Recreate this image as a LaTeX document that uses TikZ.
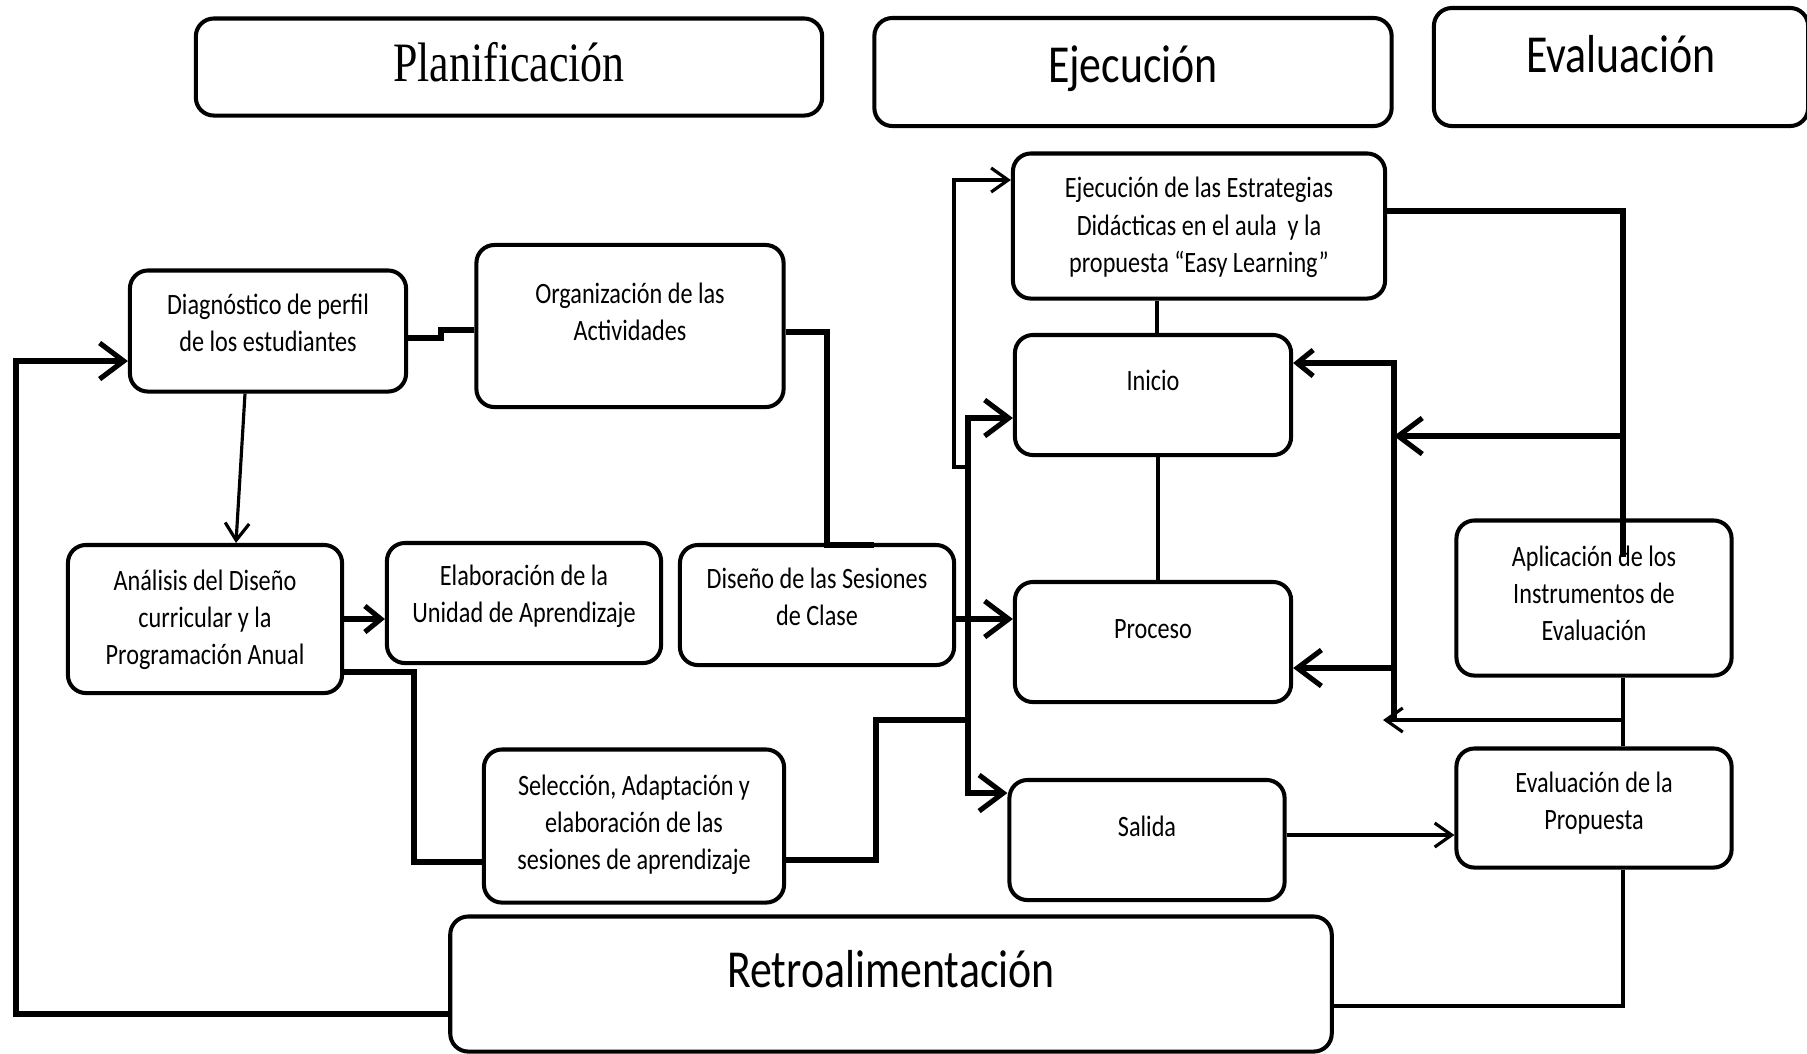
\documentclass[tikz,border=0pt]{standalone}
\usepackage{fontspec}
\setmainfont{Carlito}[FakeStretch=0.82]
\newfontfamily\planfont{Liberation Serif}[FakeStretch=0.79]
\usepackage{tikz}
\usetikzlibrary{
  arrows.meta,
}
\newcommand{\bodyfont}{\fontsize{8.4}{10.6}\selectfont}
\newcommand{\headfont}{\fontsize{15.2}{18}\selectfont}
\tikzset{
  x=0.01cm,
  y=-0.01cm,
  >={Straight Barb[length=2.4mm,width=3.6mm]},
  box/.style={
    draw,
    line width=1.15pt,
    rounded corners=0.18cm,
    align=center,
    inner sep=0pt,
    font=\bodyfont
  },
  header/.style={
    box,
    font=\headfont
  },
  dims/.style 2 args={
    minimum width=#1cm,
    minimum height=#2cm
  },
  lift/.style={
    text depth=#1
  },
  link/.style={
    line width=1.45pt
  },
  thin link/.style={
    line width=0.9pt
  },
  small tip/.style={
    -{Straight Barb[length=1.7mm,width=2.4mm]}
  },
  mid tip/.style={
    -{Straight Barb[length=1.6mm,width=2.6mm]}
  }
}

\begin{document}
\begin{tikzpicture}
\useasboundingbox (0,0) rectangle (1807,1053);
% fases
\node[header,dims={6.26}{0.97},lift=.10cm,
      font={\planfont\fontsize{15.8}{18}\selectfont}] (plan) at (509,67)  {Planificación};
\node[header,dims={5.17}{1.08},lift=.16cm] (ejec)  at (1133,72) {Ejecución};
\node[header,dims={3.74}{1.18},lift=.26cm] (eval)  at (1621,67) {Evaluación};
% planificacion
\node[box,dims={2.76}{1.21},lift=.16cm] (diag)  at (268,331)  {Diagnóstico de perfil\\de los estudiantes};
\node[box,dims={3.07}{1.62},lift=.28cm] (org)   at (630,326)  {Organización de las\\Actividades};
\node[box,dims={2.74}{1.48},lift=.04cm] (anal)  at (205,619)  {Análisis del Diseño\\curricular y la\\Programación Anual};
\node[box,dims={2.74}{1.20},lift=.18cm] (elab)  at (524,603)  {Elaboración de la\\Unidad de Aprendizaje};
\node[box,dims={2.74}{1.20},lift=.16cm] (dise)  at (817,605)  {Diseño de las Sesiones\\de Clase};
\node[box,dims={3.00}{1.53},lift=.08cm] (selec) at (634,826)  {Selección, Adaptación y\\elaboración de las\\sesiones de aprendizaje};
\node[header,dims={8.81}{1.35},lift=.30cm] (retro) at (891,984) {Retroalimentación};
% ejecucion
\node[box,dims={3.72}{1.45},lift=.02cm] (estr)  at (1199,226) {Ejecución de las Estrategias\\Didácticas en el aula~ y la\\propuesta “Easy Learning”};
\node[box,dims={2.76}{1.20},lift=.30cm] (ini)   at (1153,395) {Inicio};
\node[box,dims={2.76}{1.20},lift=.26cm] (proc)  at (1153,642) {Proceso};
\node[box,dims={2.75}{1.20},lift=.28cm] (sal)   at (1147,840) {Salida};
% evaluacion
\node[box,dims={2.75}{1.55},lift=.10cm] (apli)  at (1594,598) {Aplicación de los\\Instrumentos de\\Evaluación};
\node[box,dims={2.75}{1.19},lift=.14cm] (evprop) at (1594,808) {Evaluación de la\\Propuesta};

% conexiones
\draw[link,->]  (retro.west |- 0,1014) -- (16,1014) -- (16,361) -- (diag.west |- 0,361);
\draw[thin link,small tip] (diag.south -| 245,0) -- (anal.north -| 236,0);
\draw[link] (diag.east |- 0,338) -- (441,338) -- (441,330) -- (org.west |- 0,330);
\draw[link] (org.east |- 0,332) -- (827,332) -- (827,545) -- (874,545);
\draw[link,mid tip] (anal.east |- 0,619) -- (elab.west |- 0,619);
\draw[link] (anal.east |- 0,672) -- (414,672) -- (414,862) -- (selec.west |- 0,862);
\draw[link] (selec.east |- 0,860) -- (876,860) -- (876,720) -- (968,720);
\draw[link,->] (968,720) |- (ini.west |- 0,418);
\draw[link,->] (968,720) |- (sal.west |- 0,793);
\draw[link,->] (dise.east |- 0,619) -- (proc.west |- 0,619);
\draw[thin link,small tip] (968,467) -- (954,467) -- (954,180) -- (estr.west |- 0,180);
\draw[thin link] (estr.south -| 1157,0) -- (ini.north -| 1157,0);
\draw[thin link] (ini.south -| 1158,0) -- (proc.north -| 1158,0);
\draw[link] (estr.east |- 0,211) -- (1623,211) -- (1623,557);
\draw[link,->] (1623,436) -- (1394,436);
\draw[link,mid tip] (1394,720) -- (1394,363) -- (ini.east |- 0,363);
\draw[link,->] (1394,668) -- (proc.east |- 0,668);
\draw[thin link] (apli.south -| 1623,0) -- (evprop.north -| 1623,0);
\draw[thin link,small tip] (1623,720) -- (1383,720);
\draw[thin link,small tip] (sal.east |- 0,835) -- (evprop.west |- 0,835);
\draw[thin link] (evprop.south -| 1623,0) -- (1623,1006) -- (retro.east |- 0,1006);
\end{tikzpicture}
\end{document}
